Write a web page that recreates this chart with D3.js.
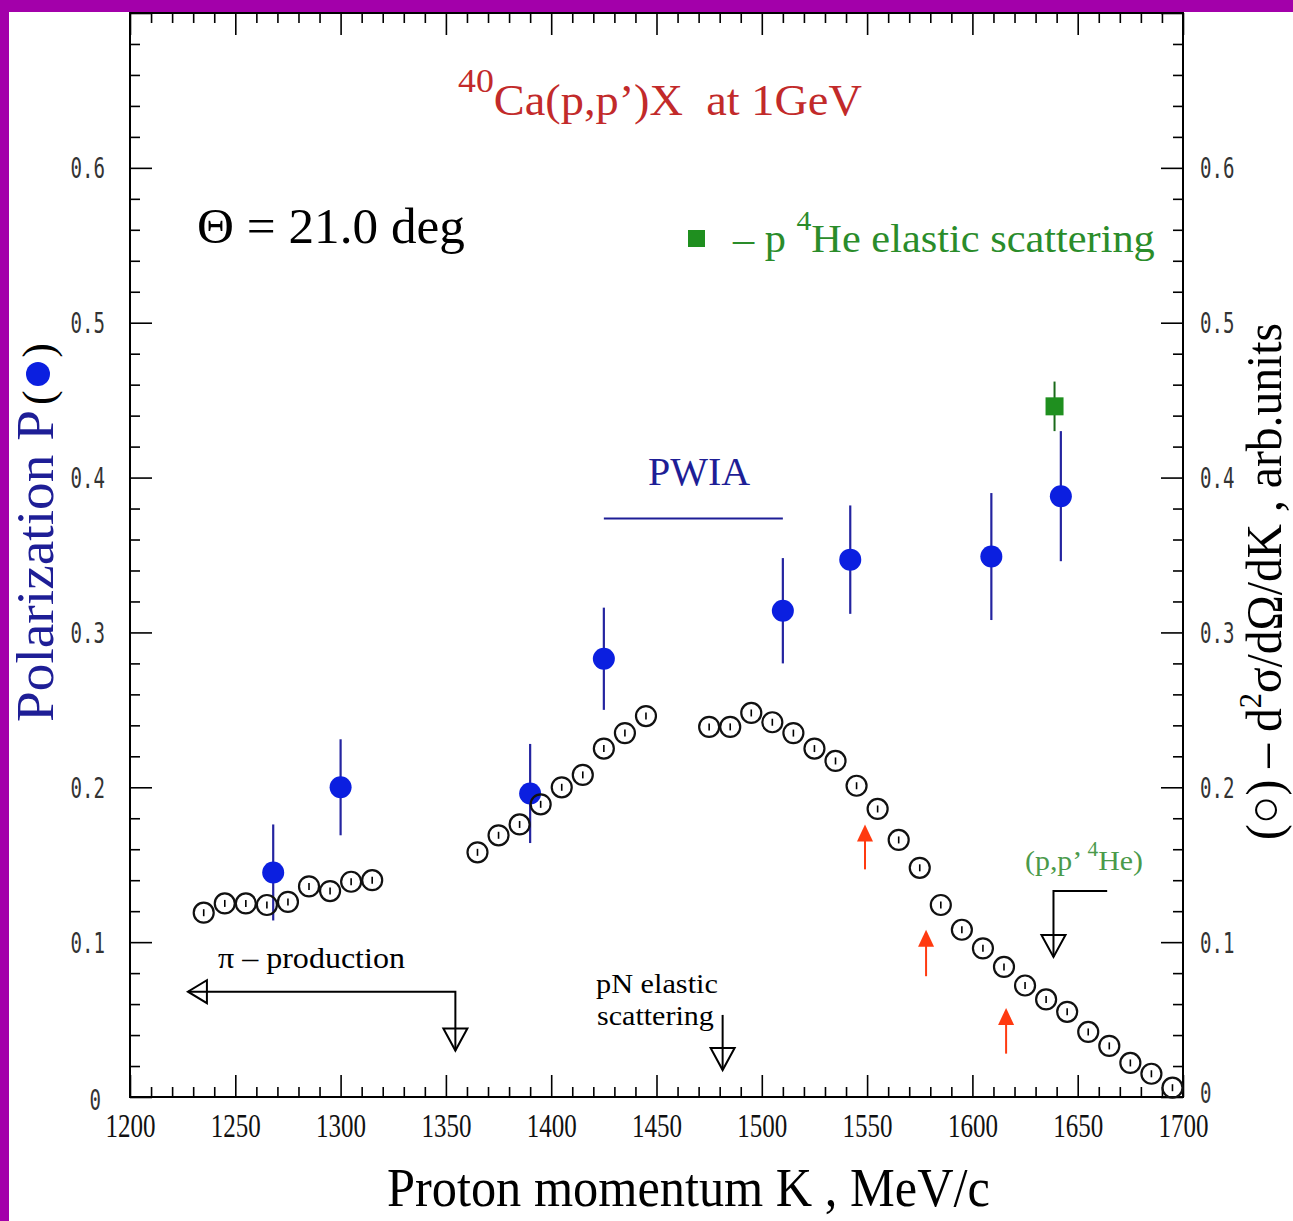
<!DOCTYPE html>
<html>
<head>
<meta charset="utf-8">
<script src="https://cdn.jsdelivr.net/npm/d3@7"></script>
<style>
  html, body { margin: 0; padding: 0; background: #ffffff; }
  svg { display: block; }
</style>
</head>
<body>
<svg id="chart" width="1293" height="1221"></svg>
<script>
// ---- data -------------------------------------------------------------
// polarization P (filled circles) with errors
const polK   = [1268, 1300, 1390, 1425, 1510, 1542, 1609, 1642];
const polP   = [0.145, 0.200, 0.196, 0.283, 0.314, 0.347, 0.349, 0.388];
const polErr = [0.031, 0.031, 0.032, 0.033, 0.034, 0.035, 0.041, 0.042];

// p-4He elastic scattering point
const heK   = [1639];
const heP   = [0.446];
const heErr = [0.016];

// double differential cross section (open circles), arb. units
const xsK = [1235, 1245, 1255, 1265, 1275, 1285, 1295, 1305, 1315,
             1365, 1375, 1385, 1395, 1405, 1415, 1425, 1435, 1445,
             1475, 1485, 1495, 1505, 1515, 1525, 1535, 1545, 1555, 1565,
             1575, 1585, 1595, 1605, 1615, 1625, 1635, 1645, 1655, 1665,
             1675, 1685, 1695];
const xsV = [0.119, 0.125, 0.125, 0.124, 0.126, 0.136, 0.133, 0.139, 0.140,
             0.158, 0.169, 0.176, 0.189, 0.200, 0.208, 0.225, 0.235, 0.246,
             0.239, 0.239, 0.248, 0.242, 0.235, 0.225, 0.217, 0.201, 0.186, 0.166,
             0.148, 0.124, 0.108, 0.096, 0.084, 0.072, 0.063, 0.055, 0.042, 0.033,
             0.022, 0.015, 0.006];

// PWIA band
const pwiaK = [1425, 1510];
const pwiaP = 0.3735;

// red markers
const markK    = [1549, 1578, 1616];
const markFrom = [0.147, 0.078, 0.028];
const markTo   = [0.176, 0.108, 0.0575];

// axis ticks
const xMinor = d3.range(1200, 1701, 10);
const xMajor = d3.range(1200, 1701, 50);
const yMinor = d3.range(0, 36).map(i => +(i * 0.02).toFixed(2));
const yMajor = [0, 0.1, 0.2, 0.3, 0.4, 0.5, 0.6];
const yLabels = ["0", "0.1", "0.2", "0.3", "0.4", "0.5", "0.6"];

// ---- layout -----------------------------------------------------------
const svg = d3.select("#chart");
const L = 130, R = 1183, T = 13, B = 1097;
const x = d3.scaleLinear().domain([1200, 1700]).range([L, R]);
const y = d3.scaleLinear().domain([0, 0.7]).range([B, T]);

const SERIF = "'Liberation Serif', 'Times New Roman', serif";
const BLUE_TXT = "#1e1e96";
const RED_TXT = "#c22a2a";
const GREEN = "#2a8c2a";

// page background and border
svg.append("rect").attr("width", 1293).attr("height", 1221).attr("fill", "#a300aa");
svg.append("rect").attr("x", 9).attr("y", 12).attr("width", 1284).attr("height", 1209).attr("fill", "#ffffff");

// stretch a text so that it spans a given width (text placed via transform)
function fit(sel, width) {
  const len = sel.node().getComputedTextLength();
  sel.attr("transform", sel.attr("transform") + ` scale(${width / len},1)`);
  return sel;
}

// ---- axes -------------------------------------------------------------
const isMajX = d => d % 50 === 0;
const isMajY = d => Math.round(d * 100) % 10 === 0;

function tickAxis(axis, tr, majFn, attr, sign) {
  const g = svg.append("g").attr("transform", tr).call(axis);
  g.select(".domain").remove();
  g.selectAll(".tick line")
    .attr("stroke", "#000").attr("stroke-width", 1.6)
    .attr(attr, d => sign * (majFn(d) ? 22 : 10));
  g.selectAll(".tick text").remove();
  return g;
}
tickAxis(d3.axisBottom(x).tickValues(xMinor).tickSize(-10), `translate(0,${B})`, isMajX, "y2", -1);
tickAxis(d3.axisTop(x).tickValues(xMinor).tickSize(-10), `translate(0,${T})`, isMajX, "y2", 1);
tickAxis(d3.axisLeft(y).tickValues(yMinor).tickSize(-10), `translate(${L},0)`, isMajY, "x2", 1);
tickAxis(d3.axisRight(y).tickValues(yMinor).tickSize(-10), `translate(${R},0)`, isMajY, "x2", -1);

// tick labels
const gx = svg.append("g").attr("transform", `translate(0,${B})`)
  .call(d3.axisBottom(x).tickValues(xMajor).tickSize(0).tickFormat(d3.format("d")));
gx.select(".domain").remove();
gx.selectAll(".tick text")
  .attr("y", 40).attr("dy", 0)
  .attr("font-family", SERIF).attr("font-size", 33).attr("fill", "#111")
  .attr("textLength", 50).attr("lengthAdjust", "spacingAndGlyphs");

const yFmt = d => yLabels[yMajor.indexOf(d)];
const MONO = "'DejaVu Sans Mono', monospace";
const gl = svg.append("g").attr("transform", `translate(${L},0)`)
  .call(d3.axisLeft(y).tickValues(yMajor).tickSize(0).tickFormat(yFmt));
gl.select(".domain").remove();
gl.selectAll(".tick text")
  .attr("x", d => d === 0 ? -29 : -25).attr("dy", d => d === 0 ? "0.45em" : "0.36em")
  .attr("font-family", MONO).attr("font-size", 28).attr("fill", "#333")
  .attr("textLength", d => yFmt(d).length * 11.5).attr("lengthAdjust", "spacingAndGlyphs");

const gr = svg.append("g").attr("transform", `translate(${R},0)`)
  .call(d3.axisRight(y).tickValues(yMajor).tickSize(0).tickFormat(yFmt));
gr.select(".domain").remove();
gr.selectAll(".tick text")
  .attr("x", 17).attr("dy", d => d === 0 ? "0.2em" : "0.36em")
  .attr("font-family", MONO).attr("font-size", 28).attr("fill", "#333")
  .attr("textLength", d => yFmt(d).length * 11.5).attr("lengthAdjust", "spacingAndGlyphs");

// plot frame
svg.append("rect").attr("x", L).attr("y", T).attr("width", R - L).attr("height", B - T)
  .attr("fill", "none").attr("stroke", "#000").attr("stroke-width", 2);

// ---- axis titles ------------------------------------------------------
fit(svg.append("text").attr("transform", "translate(387,1206)")
  .attr("font-family", SERIF).attr("font-size", 54).attr("fill", "#000")
  .text("Proton momentum K , MeV/c"), 603);

fit(svg.append("text").attr("transform", "translate(53,722) rotate(-90)")
  .attr("font-family", SERIF).attr("font-size", 52).attr("fill", BLUE_TXT)
  .text("Polarization P"), 312);
// "( • )" symbol key
svg.append("text").attr("transform", "translate(53,405) rotate(-90)")
  .attr("font-family", SERIF).attr("font-size", 44).attr("fill", "#000").text("(");
svg.append("text").attr("transform", "translate(53,343) rotate(-90)")
  .attr("text-anchor", "end")
  .attr("font-family", SERIF).attr("font-size", 44).attr("fill", "#000").text(")");
svg.append("circle").attr("cx", 38).attr("cy", 374).attr("r", 12).attr("fill", "#0b1fe0");

const rt = svg.append("text").attr("transform", "translate(1281,840) rotate(-90)")
  .attr("font-family", SERIF).attr("font-size", 50).attr("fill", "#000");
rt.append("tspan").text("(\u25CB) \u2013 d");
rt.append("tspan").attr("dy", -20).attr("font-size", 32).text("2");
rt.append("tspan").attr("dy", 20).text("\u03C3/d\u03A9/dK , arb.units");
fit(rt, 517);

// ---- annotations ------------------------------------------------------
const title = svg.append("text").attr("transform", "translate(458,115)")
  .attr("font-family", SERIF).attr("font-size", 44).attr("fill", RED_TXT)
  .attr("xml:space", "preserve");
title.append("tspan").attr("dy", -23).attr("font-size", 34).text("40");
title.append("tspan").attr("dy", 23).text("Ca(p,p\u2019)X\u00A0\u00A0at 1GeV");
fit(title, 404);

fit(svg.append("text").attr("transform", "translate(197,243)")
  .attr("font-family", SERIF).attr("font-size", 50).attr("fill", "#000")
  .text("\u0398 = 21.0 deg"), 268);

// legend for the He point
svg.append("rect").attr("x", 688).attr("y", 230).attr("width", 17).attr("height", 17).attr("fill", "#1f8f1f");
const leg = svg.append("text").attr("transform", "translate(733,252)")
  .attr("font-family", SERIF).attr("font-size", 40).attr("fill", GREEN);
leg.append("tspan").text("\u2013 p ");
leg.append("tspan").attr("dy", -22).attr("font-size", 28).text("4");
leg.append("tspan").attr("dy", 22).text("He elastic scattering");
fit(leg, 422);

// PWIA
svg.append("text").attr("x", 699).attr("y", 485).attr("text-anchor", "middle")
  .attr("font-family", SERIF).attr("font-size", 40).attr("fill", BLUE_TXT).text("PWIA");
svg.append("line").attr("x1", x(pwiaK[0])).attr("x2", x(pwiaK[1]))
  .attr("y1", y(pwiaP)).attr("y2", y(pwiaP))
  .attr("stroke", BLUE_TXT).attr("stroke-width", 2);

// open triangle arrow heads
function triDown(cx, tipY, col) {
  svg.append("path")
    .attr("d", `M${cx - 12},${tipY - 22} L${cx + 12},${tipY - 22} L${cx},${tipY} Z`)
    .attr("fill", "none").attr("stroke", col || "#000").attr("stroke-width", 2);
}
function triLeft(tipX, cy) {
  svg.append("path")
    .attr("d", `M${tipX + 19},${cy - 11.5} L${tipX + 19},${cy + 11.5} L${tipX},${cy} Z`)
    .attr("fill", "none").attr("stroke", "#000").attr("stroke-width", 2);
}

// pi-production threshold
{
  const xl = x(1227.5), xc = x(1354.5), yh = y(0.068), yt = y(0.030);
  svg.append("path").attr("d", `M${xl},${yh} L${xc},${yh} L${xc},${yt}`)
    .attr("fill", "none").attr("stroke", "#000").attr("stroke-width", 2);
  triLeft(xl, yh);
  triDown(xc, yt);
  fit(svg.append("text").attr("transform", "translate(218,968)")
    .attr("font-family", SERIF).attr("font-size", 29).attr("fill", "#000")
    .text("\u03C0 \u2013 production"), 187);
}

// pN elastic scattering
{
  const xc = x(1481.4), y0 = y(0.053), yt = y(0.0174);
  svg.append("line").attr("x1", xc).attr("x2", xc).attr("y1", y0).attr("y2", yt)
    .attr("stroke", "#000").attr("stroke-width", 2);
  triDown(xc, yt);
  fit(svg.append("text").attr("transform", "translate(596,993)")
    .attr("font-family", SERIF).attr("font-size", 28).attr("fill", "#000")
    .text("pN elastic"), 122);
  fit(svg.append("text").attr("transform", "translate(597,1025)")
    .attr("font-family", SERIF).attr("font-size", 28).attr("fill", "#000")
    .text("scattering"), 117);
}

// (p,p' 4He)
{
  const xr = x(1664), xc = x(1638.5), yh = y(0.133), yt = y(0.0904);
  svg.append("path").attr("d", `M${xr},${yh} L${xc},${yh} L${xc},${yt}`)
    .attr("fill", "none").attr("stroke", "#000").attr("stroke-width", 2);
  triDown(xc, yt);
  const t = svg.append("text").attr("transform", "translate(1025,870)")
    .attr("font-family", SERIF).attr("font-size", 28).attr("fill", "#4a9a4a");
  t.append("tspan").text("(p,p\u2019 ");
  t.append("tspan").attr("dy", -14).attr("font-size", 20).text("4");
  t.append("tspan").attr("dy", 14).text("He)");
  fit(t, 118);
}

// red arrows
const RED = "#ff3a10";
markK.forEach((k, i) => {
  const cx = x(k), y0 = y(markFrom[i]), y1 = y(markTo[i]);
  svg.append("line").attr("x1", cx).attr("x2", cx).attr("y1", y0).attr("y2", y1 + 12)
    .attr("stroke", RED).attr("stroke-width", 2);
  svg.append("path").attr("d", `M${cx - 8},${y1 + 17} L${cx + 8},${y1 + 17} L${cx},${y1} Z`)
    .attr("fill", RED);
});

// ---- data marks -------------------------------------------------------
const pol = polK.map((k, i) => ({ k, v: polP[i], e: polErr[i] }));
const gp = svg.append("g");
gp.selectAll("line").data(pol).join("line")
  .attr("x1", d => x(d.k)).attr("x2", d => x(d.k))
  .attr("y1", d => y(d.v - d.e)).attr("y2", d => y(d.v + d.e))
  .attr("stroke", "#2424a0").attr("stroke-width", 2.2);
gp.selectAll("circle").data(pol).join("circle")
  .attr("cx", d => x(d.k)).attr("cy", d => y(d.v)).attr("r", 11)
  .attr("fill", "#0b1fe0");

const he = heK.map((k, i) => ({ k, v: heP[i], e: heErr[i] }));
const gh = svg.append("g");
gh.selectAll("line").data(he).join("line")
  .attr("x1", d => x(d.k)).attr("x2", d => x(d.k))
  .attr("y1", d => y(d.v - d.e)).attr("y2", d => y(d.v + d.e))
  .attr("stroke", "#1a6a1a").attr("stroke-width", 2);
gh.selectAll("rect").data(he).join("rect")
  .attr("x", d => x(d.k) - 9).attr("y", d => y(d.v) - 9)
  .attr("width", 18).attr("height", 18).attr("fill", "#1f8f1f");

const xs = xsK.map((k, i) => ({ k, v: xsV[i] }));
const gc = svg.append("g");
gc.selectAll("line").data(xs).join("line")
  .attr("x1", d => x(d.k)).attr("x2", d => x(d.k))
  .attr("y1", d => y(d.v) - 3.5).attr("y2", d => y(d.v) + 3.5)
  .attr("stroke", "#000").attr("stroke-width", 1.6);
gc.selectAll("circle").data(xs).join("circle")
  .attr("cx", d => x(d.k)).attr("cy", d => y(d.v)).attr("r", 10)
  .attr("fill", "none").attr("stroke", "#111").attr("stroke-width", 2.2);
</script>
</body>
</html>
